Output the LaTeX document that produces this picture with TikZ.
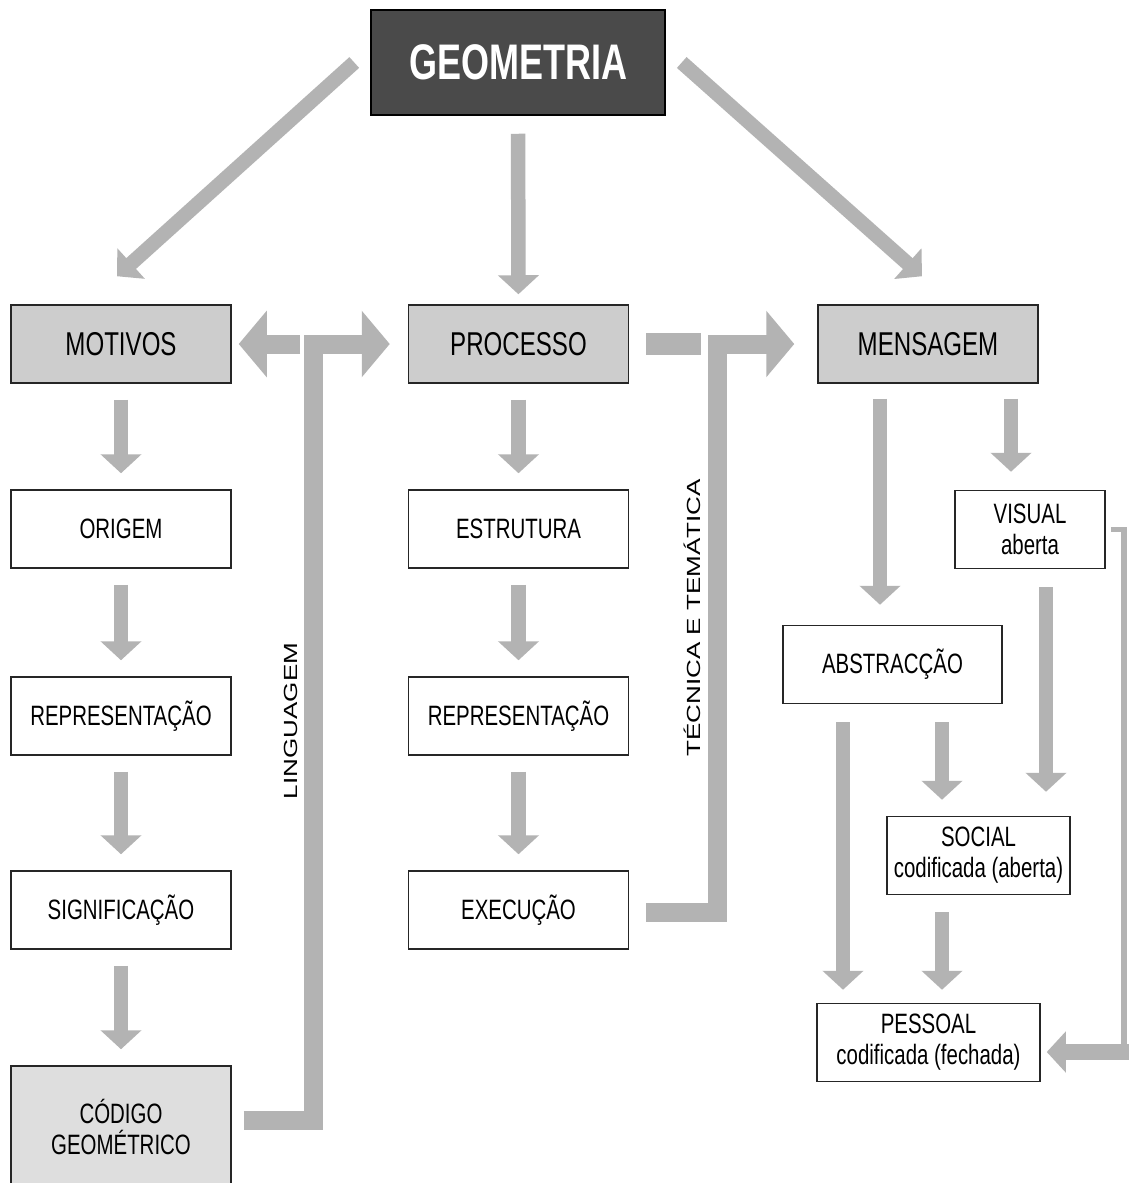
\documentclass[tikz,border=0pt]{standalone}
\usepackage{fontspec}
\setmainfont{Liberation Sans}[FakeStretch=0.73]
\newfontfamily\titlefont{Liberation Sans}[FakeStretch=0.72]
\newfontfamily\sidefont{Liberation Sans}[FakeStretch=1.37]
\usetikzlibrary{arrows.meta}

\definecolor{arrowgray}{RGB}{179,179,179}
\definecolor{headgray}{RGB}{205,205,205}
\definecolor{codegray}{RGB}{222,222,222}
\definecolor{titlegray}{RGB}{74,74,74}

\begin{document}
\begin{tikzpicture}[x=1pt,y=-1pt]
  \tikzstyle{box}=[draw=black!85, line width=1.5pt, minimum width=220pt, minimum height=78pt, inner sep=2pt, align=center, font=\fontsize{28}{31}\selectfont]
  \tikzstyle{mainbox}=[box, fill=headgray, font=\fontsize{33}{36}\selectfont]
  \tikzstyle{codebox}=[box, fill=codegray, minimum height=122pt]
  \tikzstyle{topbox}=[box, fill=titlegray, draw=black, text=white, minimum width=294pt, minimum height=105pt, font=\titlefont\bfseries\fontsize{50}{55}\selectfont]
  \tikzstyle{flow}=[draw=arrowgray, line width=14.5pt, -{Triangle[width=40pt,length=19pt]}, shorten <=16pt, shorten >=16pt]
  \tikzstyle{elbow}=[draw=arrowgray, line width=19pt, line join=miter, -{Triangle[width=65pt,length=28pt]}]
  \tikzstyle{elbowbar}=[draw=arrowgray, line width=22pt]
  \tikzstyle{thinlink}=[draw=arrowgray, line width=5.5pt, line join=miter]
  \tikzstyle{sidelabel}=[rotate=90, anchor=base, inner sep=0pt, font=\sidefont\fontsize{19}{22}\selectfont]

  \useasboundingbox[fill=white] (0,0) rectangle (1129,1183);

  \node[topbox] (geo) at (518,62.5) {GEOMETRIA};

  \node[mainbox] (mot) at (121,344) {MOTIVOS};
  \node[mainbox] (proc) at (518.5,344) {PROCESSO};
  \node[mainbox] (men) at (928,344) {MENSAGEM};

  \node[box] (ori) at (121,529) {ORIGEM};
  \node[box] (repA) at (121,716) {REPRESENTAÇÃO};
  \node[box] (sig) at (121,910) {SIGNIFICAÇÃO};
  \node[codebox] (cod) at (121,1127) {CÓDIGO\\GEOMÉTRICO};

  \node[box] (est) at (518.5,529) {ESTRUTURA};
  \node[box] (repB) at (518.5,716) {REPRESENTAÇÃO};
  \node[box] (exe) at (518.5,910) {EXECUÇÃO};

  \node[box, minimum width=150pt] (vis) at (1030,529.5) {VISUAL\\aberta};
  \node[box, minimum width=219pt] (abs) at (892.5,664.5) {ABSTRACÇÃO};
  \node[box, minimum width=183pt] (soc) at (978.5,855.5) {SOCIAL\\codificada (aberta)};
  \node[box, minimum width=223pt] (pes) at (928.5,1042.5) {PESSOAL\\codificada (fechada)};

  \node[sidelabel] (ling) at (297,721) {LINGUAGEM};
  \node[sidelabel] (tec) at (700,618) {TÉCNICA E TEMÁTICA};

  % from the title
  \draw[flow, shorten <=0pt, shorten >=0pt] ([xshift=-16pt]geo.west) -- ([xshift=-4pt,yshift=28pt]mot.north);
  \draw[flow, shorten <=18pt, shorten >=10pt] (geo) -- (proc);
  \draw[flow, shorten <=0pt, shorten >=0pt] ([xshift=16pt]geo.east) -- ([xshift=-6pt,yshift=28pt]men.north);

  % left column
  \draw[flow] (mot) -- (ori);
  \draw[flow] (ori) -- (repA);
  \draw[flow] (repA) -- (sig);
  \draw[flow] (sig) -- (cod);

  % middle column
  \draw[flow] (proc) -- (est);
  \draw[flow] (est) -- (repB);
  \draw[flow] (repB) -- (exe);

  % right side
  \draw[flow, shorten <=15pt, shorten >=20pt] ([xshift=-48pt]men.south) -- ([xshift=-12.5pt]abs.north);
  \draw[flow, shorten <=15pt, shorten >=18pt] ([xshift=83pt]men.south) -- ([xshift=-19pt]vis.north);
  \draw[flow, shorten <=18pt, shorten >=16pt] ([xshift=49.5pt]abs.south) -- ([xshift=-36.5pt]soc.north);
  \draw[flow, shorten <=18pt, shorten >=13pt] ([xshift=-49.5pt]abs.south) -- ([xshift=-85.5pt]pes.north);
  \draw[flow, shorten <=18pt, shorten >=24pt] ([xshift=16pt]vis.south) -- ([xshift=67.5pt]soc.north);
  \draw[flow, shorten <=17pt, shorten >=13pt] ([xshift=-36.5pt]soc.south) -- ([xshift=13.5pt]pes.north);

  \coordinate (visR) at (1124,529.5);
  \coordinate (pesR) at (1124,1052);
  \draw[thinlink, shorten <=5pt] (vis.east) -- (visR) -- (pesR);
  \draw[flow, line width=16pt, shorten <=0pt, shorten >=6pt] ([xshift=8pt]pesR) -- (pes.east |- pesR);

  % linguagem
  \coordinate (lingB) at (313,1120);
  \coordinate (lingT) at (313,344);
  \draw[elbow, shorten <=12pt, shorten >=18pt] (cod.east |- lingB) -- (lingB) -- (lingT) -- (proc.west);
  \draw[elbow, shorten <=13pt, shorten >=7pt] (lingT) -- (mot.east);

  % tecnica e tematica
  \coordinate (tecB) at (717,912);
  \coordinate (tecT) at (717,344);
  \draw[elbow, shorten <=17pt, shorten >=23pt] (exe.east |- tecB) -- (tecB) -- (tecT) -- (men.west);
  \draw[elbowbar, shorten <=17pt, shorten >=16pt] (proc.east) -- (tecT);
\end{tikzpicture}
\end{document}
